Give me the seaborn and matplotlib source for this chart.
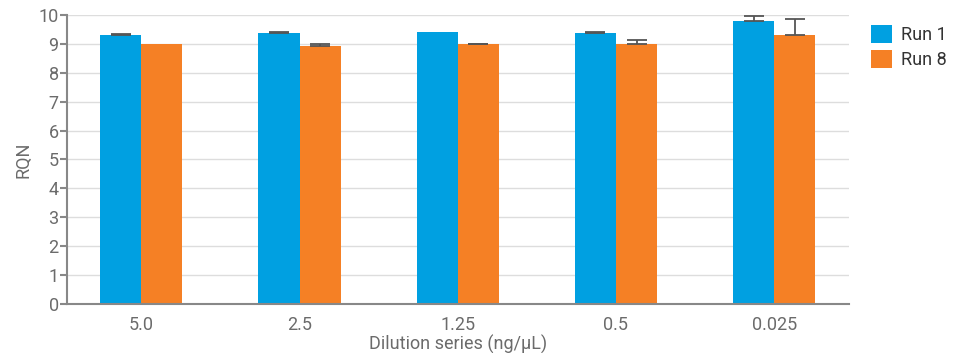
import numpy as np
import pandas as pd
import matplotlib
matplotlib.use("Agg")
import matplotlib.pyplot as plt
import seaborn as sns

# ===================== DATA =====================
dilutions = ["5.0", "2.5", "1.25", "0.5", "0.025"]
runs = ["Run 1", "Run 8"]
run1_rqn = [9.30, 9.36, 9.42, 9.39, 9.80]
run1_err = [0.05, 0.05, 0.00, 0.03, 0.18]
run8_rqn = [9.00, 8.94, 8.98, 8.98, 9.32]
run8_err = [0.00, 0.06, 0.02, 0.15, 0.55]

colors = {"Run 1": "#00A0E1", "Run 8": "#F58025"}
text_gray = "#6b6b6b"

df = pd.DataFrame({
    "Dilution": dilutions * 2,
    "Run": [runs[0]] * 5 + [runs[1]] * 5,
    "RQN": run1_rqn + run8_rqn,
    "err": run1_err + run8_err,
})

sns.set_theme(style="white")
plt.rcParams["font.family"] = ["Roboto", "DejaVu Sans"]

fig = plt.figure(figsize=(9.61, 3.53), dpi=100)
ax = fig.add_axes([0.0697, 0.139, 0.8133, 0.8185])

sns.barplot(data=df, x="Dilution", y="RQN", hue="Run", order=dilutions,
            hue_order=runs, palette=colors, errorbar=None, width=0.52,
            saturation=1, linewidth=0, ax=ax, zorder=2)

# error bars (upper only) at the bar centres, skipped where there is no spread
for container, run in zip(ax.containers, runs):
    sub = df[df["Run"] == run].set_index("Dilution").loc[dilutions]
    xs = np.array([p.get_x() + p.get_width() / 2 for p in container.patches])
    keep = sub["err"].to_numpy() > 0
    ax.errorbar(xs[keep], sub["RQN"][keep],
                yerr=[np.zeros(keep.sum()), sub["err"][keep]],
                fmt="none", ecolor="#555555", elinewidth=1.3, capsize=7,
                capthick=1.3, zorder=3)

ax.set_ylim(0, 10)
ax.set_xlim(-0.47, 4.47)
ax.set_yticks(range(0, 11))
ax.yaxis.grid(True, color="#dddddd", linewidth=1, zorder=0)
ax.set_axisbelow(True)

for s in ["top", "right"]:
    ax.spines[s].set_visible(False)
for s in ["left", "bottom"]:
    ax.spines[s].set_color("#888888")
    ax.spines[s].set_linewidth(1.5)

ax.tick_params(axis="y", left=True, length=5, width=1.5, color="#888888",
               labelsize=13, labelcolor=text_gray, pad=1)
ax.tick_params(axis="x", bottom=False, labelsize=13, labelcolor=text_gray, pad=3)

ax.set_xlabel("Dilution series (ng/μL)", fontsize=13, color=text_gray, labelpad=0)
ax.set_ylabel("RQN", fontsize=13, color=text_gray, labelpad=4)

ax.legend(loc="upper left", bbox_to_anchor=(1.012, 1.01), frameon=False,
          fontsize=13, handlelength=1.2, handleheight=1.2, labelspacing=0.3,
          handletextpad=0.5, labelcolor="#333333", borderaxespad=0.3)

fig.savefig("out.png", dpi=100)
